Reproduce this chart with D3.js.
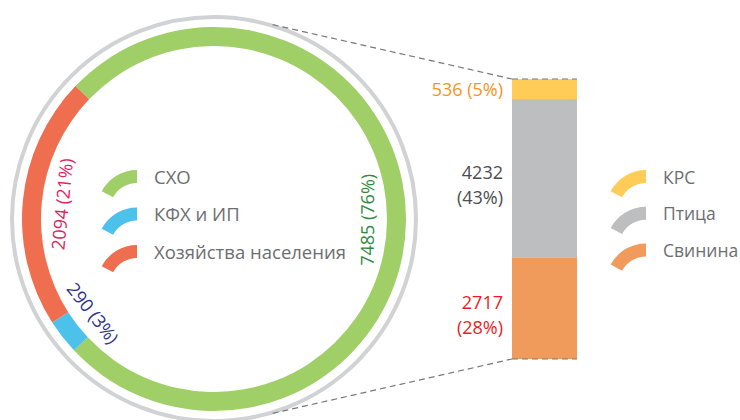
<!DOCTYPE html>
<html>
<head>
	<meta charset="utf-8">
	<title>Производство мяса</title>
	<script src="https://d3js.org/d3.v7.min.js"></script>
	<style>
		body { margin: 0; background: #fff; }
		text { font-family: "Open Sans", Lato, sans-serif; }
	</style>
</head>
<body>
	<div id="chart"></div>

	<script type="text/javascript">
		// producers (ring)
		var sectors = ["СХО", "КФХ и ИП", "Хозяйства населения"];
		var sectorValues = [7485, 290, 2094];
		var sectorShares = [76, 3, 21];
		var sectorColors = ["#a0cf67", "#4cc1ea", "#ef6e50"];
		var sectorLabelColors = ["#2e8b3e", "#2e3192", "#e0245e"];

		// meat types (bar, part of СХО)
		var meats = ["КРС", "Птица", "Свинина"];
		var meatValues = [536, 4232, 2717];
		var meatShares = [5, 43, 28];
		var meatColors = ["#ffcd57", "#bcbec0", "#f09a5b"];
		var meatLabelColors = ["#f7941d", "#4d4d4f", "#ed1c24"];

		var width = 740;
		var height = 420;
		var cx = 214, cy = 219;
		var rad = Math.PI / 180;

		var svg = d3.select("#chart")
			.append("svg")
			.attr("width", width)
			.attr("height", height);

		// outer gray circle
		svg.append("circle")
			.attr("cx", cx)
			.attr("cy", cy)
			.attr("r", 202)
			.attr("fill", "none")
			.attr("stroke", "#d1d2d4")
			.attr("stroke-width", 4);

		var ring = svg.append("g").attr("transform", "translate(" + cx + "," + cy + ")");

		var pie = d3.pie()
			.sort(null)
			.startAngle(-46.2 * rad)
			.endAngle(313.8 * rad);

		var arcs = pie(sectorValues);

		var arc = d3.arc().innerRadius(173).outerRadius(192);

		ring.selectAll("path")
			.data(arcs)
			.enter().append("path")
			.attr("d", arc)
			.attr("fill", function(d, i) { return sectorColors[i]; });

		ring.selectAll("text")
			.data(arcs)
			.enter().append("text")
			.attr("transform", function(d) {
				var mid = (d.startAngle + d.endAngle) / 2;
				var r = 153;
				var x = r * Math.sin(mid), y = -r * Math.cos(mid);
				var deg = mid / rad - 180;
				if (deg > 90) deg -= 180;
				return "translate(" + x + "," + y + ") rotate(" + deg + ")";
			})
			.attr("text-anchor", "middle")
			.attr("dominant-baseline", "central")
			.attr("font-size", 18)
			.attr("fill", function(d, i) { return sectorLabelColors[i]; })
			.text(function(d, i) { return sectorValues[i] + " (" + sectorShares[i] + "%)"; });

		// legend icon shape
		var iconArc = d3.arc()
			.innerRadius(27)
			.outerRadius(40)
			.startAngle(-62 * rad)
			.endAngle(0);

		function legend(names, colors, iconX, textX, y0, step, fs) {
			var g = svg.append("g");
			var item = g.selectAll("g")
				.data(names)
				.enter().append("g")
				.attr("transform", function(d, i) { return "translate(0," + (y0 + i * step) + ")"; });
			item.append("path")
				.attr("d", iconArc)
				.attr("transform", "translate(" + iconX + ",40)")
				.attr("fill", function(d, i) { return colors[i]; });
			item.append("text")
				.attr("x", textX)
				.attr("y", 13.5)
				.attr("font-size", fs)
				.attr("fill", "#6d6e71")
				.text(function(d) { return d; });
		}

		legend(sectors, sectorColors, 137, 154, 170, 37.5, 18.5);
		legend(meats, meatColors, 646, 663, 170, 36.7, 17.5);

		// stacked bar
		var barX = 512, barW = 65;
		var total = d3.sum(meatValues);
		var y = d3.scaleLinear().domain([0, total]).range([79, 359]);

		var cum = 0;
		var segs = meatValues.map(function(v, i) {
			var s = { i: i, y0: cum, y1: cum + v };
			cum += v;
			return s;
		});

		svg.append("g").selectAll("rect")
			.data(segs)
			.enter().append("rect")
			.attr("x", barX)
			.attr("width", barW)
			.attr("y", function(d) { return y(d.y0); })
			.attr("height", function(d) { return y(d.y1) - y(d.y0); })
			.attr("fill", function(d) { return meatColors[d.i]; });

		var labels = svg.append("g").selectAll("text")
			.data(segs)
			.enter().append("text")
			.attr("text-anchor", "end")
			.attr("font-size", 18)
			.attr("fill", function(d) { return meatLabelColors[d.i]; });

		labels.each(function(d) {
			var t = d3.select(this);
			var mid = (y(d.y0) + y(d.y1)) / 2;
			var num = meatValues[d.i], pct = "(" + meatShares[d.i] + "%)";
			if (y(d.y1) - y(d.y0) < 40) {
				t.append("tspan").attr("x", 503).attr("y", mid + 7).text(num + " " + pct);
			} else {
				t.append("tspan").attr("x", 503).attr("y", mid + 1).text(num);
				t.append("tspan").attr("x", 503).attr("y", mid + 26).text(pct);
			}
		});

		// dashed connectors
		var dash = svg.append("g")
			.attr("stroke", "#77787b")
			.attr("stroke-width", 1.2)
			.attr("stroke-dasharray", "6,4")
			.attr("fill", "none");

		var a1 = 16.8 * rad, a2 = 163.2 * rad, rc = 203;
		dash.append("line")
			.attr("x1", cx + rc * Math.sin(a1)).attr("y1", cy - rc * Math.cos(a1))
			.attr("x2", barX).attr("y2", y(0));
		dash.append("line")
			.attr("x1", cx + rc * Math.sin(a2)).attr("y1", cy - rc * Math.cos(a2))
			.attr("x2", barX).attr("y2", y(total));
		dash.append("line")
			.attr("x1", barX).attr("y1", y(0))
			.attr("x2", barX + barW).attr("y2", y(0));
		dash.append("line")
			.attr("x1", barX).attr("y1", y(total))
			.attr("x2", barX + barW).attr("y2", y(total));
	</script>
</body>
</html>
